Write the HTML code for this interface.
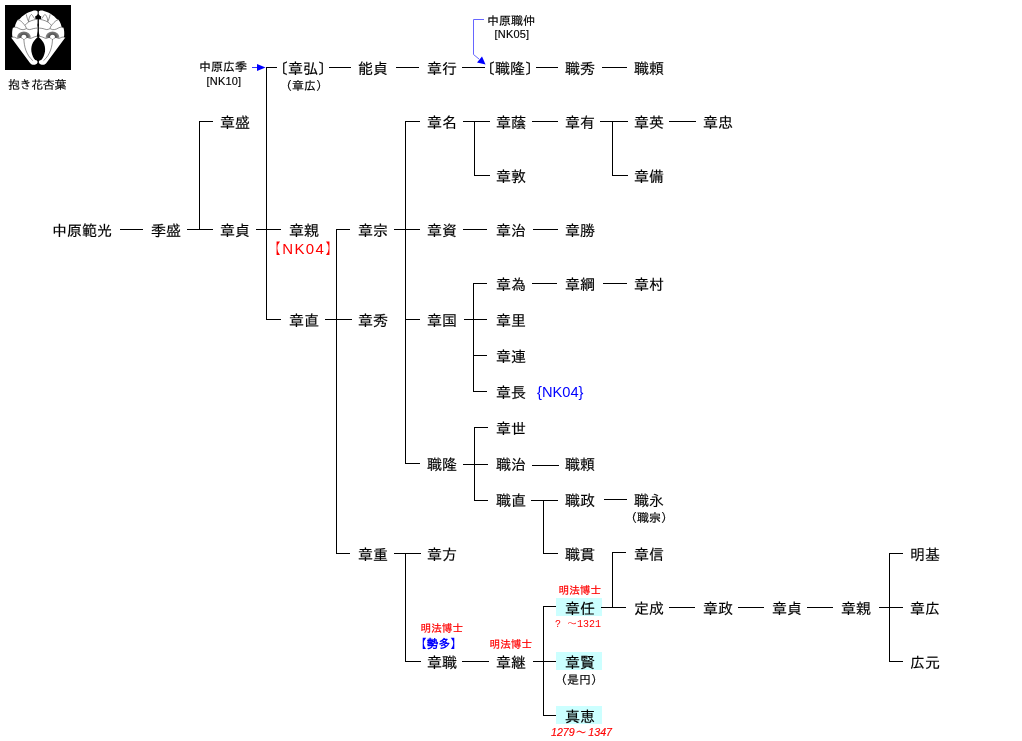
<!DOCTYPE html>
<html lang="ja">
<head>
<meta charset="utf-8">
<title>中原氏系図</title>
<style>
html,body{margin:0;padding:0;background:#fff;}
body{width:1022px;height:741px;overflow:hidden;}
#chart{position:relative;width:1022px;height:741px;overflow:hidden;background:#fff;will-change:transform;font-family:"Liberation Sans","IPAGothic","Noto Sans CJK JP",sans-serif;color:#000;}
.t{position:absolute;white-space:nowrap;margin:0;padding:0;-webkit-text-stroke:0.15px currentColor;}
.n{font-size:15px;line-height:15px;height:15px;}
.l{position:absolute;background:#000;}
.hl{position:absolute;background:#ccffff;}
svg{position:absolute;left:0;top:0;}
</style>
</head>
<body>
<div id="chart">
<svg width="76" height="76" viewBox="0 0 76 76">
<defs>
<radialGradient id="ag" cx="23.9" cy="37.6" r="6.9" gradientUnits="userSpaceOnUse">
<stop offset="0.35" stop-color="#444"/><stop offset="0.7" stop-color="#6a6a6a"/><stop offset="1" stop-color="#8a8a8a"/>
</radialGradient>
<g id="half">
<path d="M37.6,11.5 C36.6,10.3 34.5,10.3 32.5,10.9 C29.5,11.6 26.5,13.3 24.8,14.4 C23,15.5 21,17.3 19.3,19.2 L17.9,19.7 C16.5,21.5 15.3,24 14.9,26.8 L12.9,27.7 C12.2,30 12,33 12.2,35.5 L12.6,37 L11.1,37.5 L30,62.9 C31,64.3 33,65 34.8,64.7 C36.5,64.3 37.6,63 37.6,61.9 C37.5,60.8 36.5,60.2 35.2,60 C33.5,58.2 32,55 31.4,51.5 C31,48 31.6,45 33,42.5 C34.3,40.2 36,38.3 37.7,36.9 L37.7,19.2 L35.4,19 L35.2,16.2 C36.5,16 37.6,15 37.7,13.5 Z" fill="#fff"/>
<path d="M16.9,37.7 A7,6.2 0 0 1 30.9,37.7 L26.5,37.7 A2.6,2.9 0 0 0 21.3,37.7 Z" fill="url(#ag)"/>
<g fill="none" stroke="#333" stroke-width="0.55">
<path d="M17.9,19.7 C19.5,20 21,21 22.5,22.6 C23.5,23.8 24.6,25 25,25.5 C25.8,26.5 26.2,27.5 26.3,28.4"/>
<path d="M26.3,14.4 C26.6,16 27,17.5 27.3,18.4 C27.8,19.8 28.2,20.8 28.6,21.6"/>
<path d="M24.9,25.4 C26,24 27.3,22.8 28.6,22 C30.3,21 32,20.4 33.5,20 C35,19.6 36.2,19.4 37.2,19.2"/>
<path d="M28.6,21.6 C28.7,19.5 29.2,17.8 29.7,16.7 C30.3,15.5 31,14.6 31.5,14.4 C32.3,15 32.9,16 33.4,16.9 C33.9,17.7 34.4,18.3 34.8,18.7"/>
<path d="M12.9,27.7 C14,27.2 15.3,27 16.4,27.3 C17.8,27.7 18.9,28.6 20.1,29.1 C21.4,29.6 22.7,29.8 23.9,29.6 C24.8,29.4 25.6,28.9 26.3,28.6 C27.4,29 28.5,29.6 29.6,29.6 C30.9,29.5 32.1,28.9 33.3,28.6 C34.6,28.3 35.9,28.2 37.2,28.1"/>
<path d="M11.2,37.5 C12.3,37.1 13.5,37 14.5,37.2 C15.6,37.5 16.5,38.3 17.3,38.5 C18.6,38.4 19.6,37.6 20.6,37.4 C21.8,37.8 22.8,39 23.9,39.3 C25,39 26,37.8 27.2,37.4 C28.3,37.6 29.3,38.4 30.5,38.5 C31.8,38.2 33,37.3 34.3,36.9 C35.4,36.5 36.5,36.2 37.6,36"/>
<path d="M23.9,39.3 C24,41 24.1,42.8 24.4,44.4 C24.7,46.4 25.2,48.3 25.8,50.1 C26.5,52.1 27.5,54 28.6,55.8 C29.8,57.7 31.3,59.3 32.9,60.7"/>
</g>
<circle cx="23.9" cy="37.8" r="1.3" fill="#fff"/>
</g>
</defs>
<rect x="5" y="5" width="66" height="65" fill="#000"/>
<use href="#half"/>
<use href="#half" transform="translate(76.4,0) scale(-1,1)"/>
<path d="M37.8,19 H38.6 V23 L39,25 L38.6,27 V31 L39.6,36.2 L38.2,37.5 L36.8,36.2 L37.8,31 V27 L37.4,25 L37.8,23 Z" fill="#000"/>
</svg>
<div class="hl" style="left:556px;top:598px;width:46px;height:18px"></div>
<div class="hl" style="left:556px;top:652px;width:46px;height:18px"></div>
<div class="hl" style="left:556px;top:706px;width:46px;height:18px"></div>
<div class="l" style="left:266px;top:67px;width:11px;height:1px"></div>
<div class="l" style="left:329px;top:67px;width:22px;height:1px"></div>
<div class="l" style="left:396px;top:67px;width:23px;height:1px"></div>
<div class="l" style="left:462px;top:67px;width:23px;height:1px"></div>
<div class="l" style="left:536px;top:67px;width:22px;height:1px"></div>
<div class="l" style="left:602px;top:67px;width:25px;height:1px"></div>
<div class="l" style="left:266px;top:319px;width:15px;height:1px"></div>
<div class="l" style="left:120px;top:229px;width:23px;height:1px"></div>
<div class="l" style="left:187px;top:229px;width:26px;height:1px"></div>
<div class="l" style="left:199px;top:121px;width:14px;height:1px"></div>
<div class="l" style="left:256px;top:229px;width:25px;height:1px"></div>
<div class="l" style="left:325px;top:319px;width:27px;height:1px"></div>
<div class="l" style="left:336px;top:229px;width:14px;height:1px"></div>
<div class="l" style="left:336px;top:553px;width:14px;height:1px"></div>
<div class="l" style="left:394px;top:229px;width:26px;height:1px"></div>
<div class="l" style="left:405px;top:121px;width:15px;height:1px"></div>
<div class="l" style="left:405px;top:319px;width:15px;height:1px"></div>
<div class="l" style="left:405px;top:463px;width:15px;height:1px"></div>
<div class="l" style="left:463px;top:121px;width:27px;height:1px"></div>
<div class="l" style="left:474px;top:175px;width:16px;height:1px"></div>
<div class="l" style="left:532px;top:121px;width:26px;height:1px"></div>
<div class="l" style="left:600px;top:121px;width:28px;height:1px"></div>
<div class="l" style="left:612px;top:175px;width:16px;height:1px"></div>
<div class="l" style="left:669px;top:121px;width:27px;height:1px"></div>
<div class="l" style="left:463px;top:229px;width:24px;height:1px"></div>
<div class="l" style="left:533px;top:229px;width:25px;height:1px"></div>
<div class="l" style="left:464px;top:319px;width:23px;height:1px"></div>
<div class="l" style="left:473px;top:283px;width:14px;height:1px"></div>
<div class="l" style="left:473px;top:355px;width:14px;height:1px"></div>
<div class="l" style="left:473px;top:391px;width:14px;height:1px"></div>
<div class="l" style="left:532px;top:283px;width:25px;height:1px"></div>
<div class="l" style="left:603px;top:283px;width:24px;height:1px"></div>
<div class="l" style="left:463px;top:464px;width:25px;height:1px"></div>
<div class="l" style="left:474px;top:427px;width:14px;height:1px"></div>
<div class="l" style="left:474px;top:500px;width:14px;height:1px"></div>
<div class="l" style="left:532px;top:465px;width:27px;height:1px"></div>
<div class="l" style="left:531px;top:500px;width:27px;height:1px"></div>
<div class="l" style="left:543px;top:553px;width:15px;height:1px"></div>
<div class="l" style="left:604px;top:499px;width:23px;height:1px"></div>
<div class="l" style="left:394px;top:553px;width:27px;height:1px"></div>
<div class="l" style="left:405px;top:661px;width:16px;height:1px"></div>
<div class="l" style="left:462px;top:661px;width:27px;height:1px"></div>
<div class="l" style="left:533px;top:661px;width:23px;height:1px"></div>
<div class="l" style="left:543px;top:606px;width:13px;height:1px"></div>
<div class="l" style="left:543px;top:715px;width:13px;height:1px"></div>
<div class="l" style="left:601px;top:607px;width:25px;height:1px"></div>
<div class="l" style="left:612px;top:552px;width:14px;height:1px"></div>
<div class="l" style="left:669px;top:607px;width:26px;height:1px"></div>
<div class="l" style="left:738px;top:607px;width:26px;height:1px"></div>
<div class="l" style="left:807px;top:607px;width:26px;height:1px"></div>
<div class="l" style="left:879px;top:607px;width:24px;height:1px"></div>
<div class="l" style="left:889px;top:553px;width:14px;height:1px"></div>
<div class="l" style="left:889px;top:661px;width:14px;height:1px"></div>
<div class="l" style="left:266px;top:67px;width:1px;height:253px"></div>
<div class="l" style="left:199px;top:121px;width:1px;height:109px"></div>
<div class="l" style="left:336px;top:229px;width:1px;height:325px"></div>
<div class="l" style="left:405px;top:121px;width:1px;height:343px"></div>
<div class="l" style="left:474px;top:121px;width:1px;height:55px"></div>
<div class="l" style="left:612px;top:121px;width:1px;height:55px"></div>
<div class="l" style="left:473px;top:283px;width:1px;height:109px"></div>
<div class="l" style="left:474px;top:427px;width:1px;height:74px"></div>
<div class="l" style="left:543px;top:500px;width:1px;height:54px"></div>
<div class="l" style="left:405px;top:553px;width:1px;height:109px"></div>
<div class="l" style="left:543px;top:606px;width:1px;height:110px"></div>
<div class="l" style="left:612px;top:552px;width:1px;height:56px"></div>
<div class="l" style="left:889px;top:553px;width:1px;height:109px"></div>
<svg width="1022" height="741" viewBox="0 0 1022 741">
<path d="M252 67.5H258" stroke="#33f" stroke-width="1" fill="none"/>
<path d="M257 64L265.5 67.5L257 71Z" fill="#00f"/>
<path d="M484 19.5H473.5V54.5L479 59" stroke="#66f" stroke-width="1" fill="none"/>
<path d="M477 62.5L482 56.5L485.5 64.5Z" fill="#00f"/>
</svg>
<div class="t n" style="left:273px;top:61px">〔章弘〕</div>
<div class="t n" style="left:358px;top:61px">能貞</div>
<div class="t n" style="left:427px;top:61px">章行</div>
<div class="t n" style="left:480px;top:61px">〔職隆〕</div>
<div class="t n" style="left:565px;top:61px">職秀</div>
<div class="t n" style="left:634px;top:61px">職頼</div>
<div class="t n" style="left:220px;top:115px">章盛</div>
<div class="t n" style="left:427px;top:115px">章名</div>
<div class="t n" style="left:496px;top:115px">章蔭</div>
<div class="t n" style="left:565px;top:115px">章有</div>
<div class="t n" style="left:634px;top:115px">章英</div>
<div class="t n" style="left:703px;top:115px">章忠</div>
<div class="t n" style="left:496px;top:169px">章敦</div>
<div class="t n" style="left:634px;top:169px">章備</div>
<div class="t n" style="left:52px;top:223px">中原範光</div>
<div class="t n" style="left:151px;top:223px">季盛</div>
<div class="t n" style="left:220px;top:223px">章貞</div>
<div class="t n" style="left:289px;top:223px">章親</div>
<div class="t n" style="left:358px;top:223px">章宗</div>
<div class="t n" style="left:427px;top:223px">章資</div>
<div class="t n" style="left:496px;top:223px">章治</div>
<div class="t n" style="left:565px;top:223px">章勝</div>
<div class="t n" style="left:496px;top:277px">章為</div>
<div class="t n" style="left:565px;top:277px">章綱</div>
<div class="t n" style="left:634px;top:277px">章村</div>
<div class="t n" style="left:289px;top:313px">章直</div>
<div class="t n" style="left:358px;top:313px">章秀</div>
<div class="t n" style="left:427px;top:313px">章国</div>
<div class="t n" style="left:496px;top:313px">章里</div>
<div class="t n" style="left:496px;top:349px">章連</div>
<div class="t n" style="left:496px;top:385px">章長</div>
<div class="t n" style="left:496px;top:421px">章世</div>
<div class="t n" style="left:427px;top:457px">職隆</div>
<div class="t n" style="left:496px;top:457px">職治</div>
<div class="t n" style="left:565px;top:457px">職頼</div>
<div class="t n" style="left:496px;top:493px">職直</div>
<div class="t n" style="left:565px;top:493px">職政</div>
<div class="t n" style="left:634px;top:493px">職永</div>
<div class="t n" style="left:358px;top:547px">章重</div>
<div class="t n" style="left:427px;top:547px">章方</div>
<div class="t n" style="left:565px;top:547px">職貫</div>
<div class="t n" style="left:634px;top:547px">章信</div>
<div class="t n" style="left:910px;top:547px">明基</div>
<div class="t n" style="left:565px;top:601px">章任</div>
<div class="t n" style="left:634px;top:601px">定成</div>
<div class="t n" style="left:703px;top:601px">章政</div>
<div class="t n" style="left:772px;top:601px">章貞</div>
<div class="t n" style="left:841px;top:601px">章親</div>
<div class="t n" style="left:910px;top:601px">章広</div>
<div class="t n" style="left:427px;top:655px">章職</div>
<div class="t n" style="left:496px;top:655px">章継</div>
<div class="t n" style="left:565px;top:655px">章賢</div>
<div class="t n" style="left:910px;top:655px">広元</div>
<div class="t n" style="left:565px;top:709px">真恵</div>
<div class="t" style="left:8px;top:79px;font-size:12px;line-height:12px;letter-spacing:-0.4px">抱き花杏葉</div>
<div class="t" style="left:199px;top:61px;font-size:12px;line-height:12px;">中原広季</div>
<div class="t" style="left:206.5px;top:76px;font-size:11px;line-height:11px;letter-spacing:0.2px">[NK10]</div>
<div class="t" style="left:280px;top:80px;font-size:12px;line-height:12px;">（章広）</div>
<div class="t" style="left:487px;top:15px;font-size:12px;line-height:12px;">中原職仲</div>
<div class="t" style="left:494.5px;top:29px;font-size:11px;line-height:11px;letter-spacing:0.2px">[NK05]</div>
<div class="t" style="left:266px;top:241px;font-size:15px;line-height:15px;color:#f00;letter-spacing:1.3px;-webkit-text-stroke:0">【NK04】</div>
<div class="t" style="left:537px;top:385px;font-size:14.67px;line-height:14.67px;color:#00f;-webkit-text-stroke:0">{NK04}</div>
<div class="t" style="left:625px;top:512px;font-size:12px;line-height:12px;">（職宗）</div>
<div class="t" style="left:558.5px;top:585px;font-size:10.67px;line-height:10.67px;color:#f00;-webkit-text-stroke:0.2px #f00">明法博士</div>
<div class="t" style="left:555px;top:620px;font-size:10px;line-height:10px;color:#f00;-webkit-text-stroke:0;font-family:'Liberation Mono','IPAGothic',monospace">? ～1321</div>
<div class="t" style="left:420.5px;top:623px;font-size:10.67px;line-height:10.67px;color:#f00;-webkit-text-stroke:0.2px #f00">明法博士</div>
<div class="t" style="left:414.5px;top:638px;font-size:12px;line-height:12px;color:#00f;font-weight:bold;-webkit-text-stroke:0">【勢多】</div>
<div class="t" style="left:489.5px;top:639px;font-size:10.67px;line-height:10.67px;color:#f00;-webkit-text-stroke:0.2px #f00">明法博士</div>
<div class="t" style="left:555px;top:674px;font-size:12px;line-height:12px;">（是円）</div>
<div class="t" style="left:551px;top:727px;font-size:10.67px;line-height:10.67px;color:#f00;font-style:italic">1279～ 1347</div>
</div>
</body>
</html>
